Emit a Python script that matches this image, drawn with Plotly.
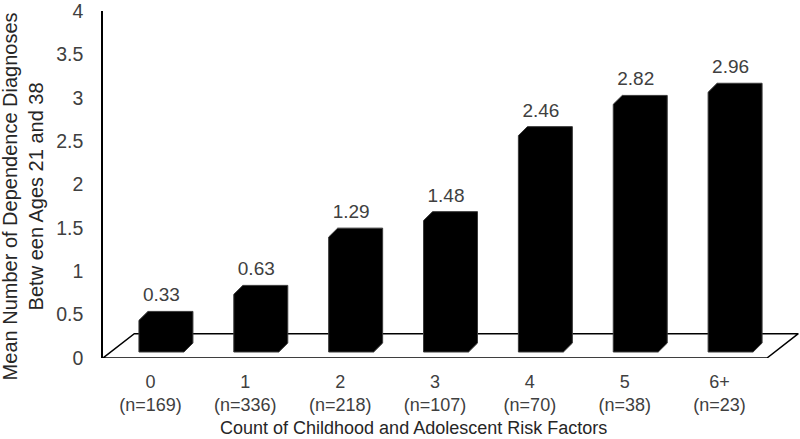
import plotly.graph_objects as go

# ---- data ----
categories = ["0", "1", "2", "3", "4", "5", "6+"]
sample_sizes = ["n=169", "n=336", "n=218", "n=107", "n=70", "n=38", "n=23"]
mean_diagnoses = [0.33, 0.63, 1.29, 1.48, 2.46, 2.82, 2.96]
y_ticks = [0, 0.5, 1, 1.5, 2, 2.5, 3, 3.5, 4]
y_tick_labels = ["0", "0.5", "1", "1.5", "2", "2.5", "3", "3.5", "4"]

x_title = "Count of Childhood and Adolescent Risk Factors"
y_title = "Mean Number of Dependence Diagnoses<br>Betw een Ages 21 and 38"

FONT = "Liberation Sans, Arial, sans-serif"
TICK_COLOR = "#404040"

# ---- pseudo-3D geometry (in axis units) ----
n = len(categories)
floor_dx, floor_dy = 0.33, 0.28        # depth of the floor
bar_shift, bar_half = 0.116, 0.237     # front face position within a slot
bar_base = 0.069                        # bars stand a little behind the front edge
bar_lift = 0.035
depth_dx, depth_dy = 0.095, 0.103      # bar depth
label_gap = 0.06

W, H = 800, 439
ml, mr, mt, mb = 103, 0, 8, 81
px_per_x = 94.86
x_range = [-0.5, -0.5 + (W - ml - mr) / px_per_x]

fig = go.Figure()

# floor parallelogram
fx = [-0.5, n - 0.5, n - 0.5 + floor_dx, -0.5 + floor_dx, -0.5]
fy = [0, 0, floor_dy, floor_dy, 0]
fig.add_trace(go.Scatter(x=fx, y=fy, mode="lines",
                         line=dict(color="black", width=1.5),
                         hoverinfo="skip", showlegend=False))

# bars
for i, v in enumerate(mean_diagnoses):
    xl = i + bar_shift - bar_half
    xr = i + bar_shift + bar_half
    y0 = bar_base
    yt = v + bar_base + bar_lift
    xs = [xl, xl, xl + depth_dx, xr + depth_dx, xr + depth_dx, xr, xl]
    ys = [y0, yt, yt + depth_dy, yt + depth_dy, y0 + depth_dy, y0, y0]
    fig.add_trace(go.Scatter(x=xs, y=ys, mode="lines", fill="toself",
                             fillcolor="black",
                             line=dict(color="#3a3a3a", width=1),
                             hoverinfo="skip", showlegend=False))

# value labels
label_x = [i + bar_shift for i in range(n)]
label_y = [v + bar_base + bar_lift + depth_dy + label_gap for v in mean_diagnoses]
fig.add_trace(go.Scatter(x=label_x, y=label_y, mode="text",
                         text=[f"{v:.2f}" for v in mean_diagnoses],
                         textposition="top center",
                         textfont=dict(family=FONT, size=19, color=TICK_COLOR),
                         hoverinfo="skip", showlegend=False))

tick_text = [f"{c}<br>({s})" for c, s in zip(categories, sample_sizes)]

fig.update_layout(
    width=W, height=H,
    margin=dict(l=ml, r=mr, t=mt, b=mb, pad=0),
    plot_bgcolor="white", paper_bgcolor="white",
    showlegend=False,
    font=dict(family=FONT, size=18, color=TICK_COLOR),
    xaxis=dict(range=x_range, tickmode="array", tickvals=list(range(n)),
               ticktext=tick_text, showline=False, showgrid=False,
               zeroline=False, ticks="", ticklabelstandoff=11,
               ticklabeloverflow="allow",
               tickfont=dict(family=FONT, size=18, color=TICK_COLOR),
               fixedrange=True),
    yaxis=dict(range=[0, 4], tickmode="array", tickvals=y_ticks,
               ticktext=y_tick_labels, showline=True, linecolor="black",
               linewidth=1.5, showgrid=False, zeroline=False, ticks="",
               ticklabelstandoff=14, ticklabeloverflow="allow",
               tickfont=dict(family=FONT, size=19.5, color=TICK_COLOR),
               fixedrange=True),
    annotations=[
        dict(text=x_title, xref="paper", yref="paper",
             x=(413.5 - ml) / (W - ml - mr), y=(358 - 429) / (H - mt - mb),
             xanchor="center", yanchor="middle", showarrow=False,
             font=dict(family=FONT, size=18, color="#262626")),
        dict(text=y_title, xref="paper", yref="paper",
             x=(23 - ml) / (W - ml - mr), y=(358 - 195) / (H - mt - mb),
             xanchor="center", yanchor="middle", showarrow=False,
             textangle=-90,
             font=dict(family=FONT, size=20, color="#262626")),
    ],
)

fig.write_html("out.html",
               config={"displayModeBar": False},
               post_script="document.body.style.margin='0';"
                           "document.body.style.overflow='hidden';")
